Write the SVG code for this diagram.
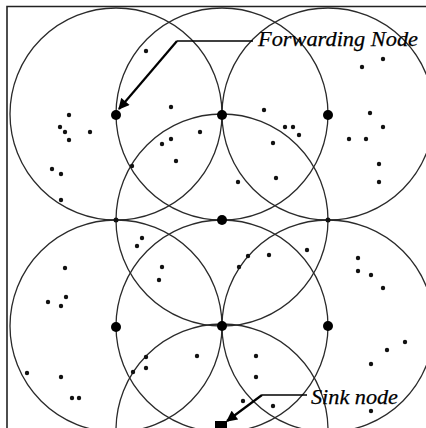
<svg xmlns="http://www.w3.org/2000/svg" width="426" height="428" viewBox="0 0 426 428">
<defs>
<style>
.range{fill:none;stroke:#2a2a2a;stroke-width:1.3}
.fwd{fill:#000}
.s{fill:#111}
.lead{fill:none;stroke:#000;stroke-width:1.4}
.arr{fill:none;stroke:#000;stroke-width:2.2}
.lbl{font-family:"Liberation Serif","Times New Roman",serif;font-style:italic;font-size:22px;fill:#000;stroke:#000;stroke-width:0.25}
</style>
<marker id="ah" viewBox="0 0 10 10" refX="9" refY="5" markerWidth="5.5" markerHeight="5" orient="auto" markerUnits="strokeWidth">
<path d="M0,0 L10,5 L0,10 Z" fill="#000"/>
</marker>
</defs>
<rect width="426" height="428" fill="#fff"/>
<g id="frame" stroke="#222" stroke-width="1.6" fill="none">
<path d="M7,428 V6.5 H426"/>
</g>
<g id="ranges">
<circle class="range" cx="116" cy="114" r="106"/>
<circle class="range" cx="222" cy="114" r="106"/>
<circle class="range" cx="328" cy="114" r="106"/>
<circle class="range" cx="222" cy="220" r="106"/>
<circle class="range" cx="116" cy="326" r="106"/>
<circle class="range" cx="222" cy="326" r="106"/>
<circle class="range" cx="328" cy="326" r="106"/>
<circle class="range" cx="222" cy="430" r="106"/>
</g>
<g id="sensors" class="s">
<circle cx="146" cy="51" r="2.2"/><circle cx="171" cy="107" r="2.2"/><circle cx="69" cy="115" r="2.2"/><circle cx="60" cy="127" r="2.2"/><circle cx="65" cy="132" r="2.2"/><circle cx="69" cy="140" r="2.2"/><circle cx="90" cy="132" r="2.2"/><circle cx="200" cy="132" r="2.2"/><circle cx="162" cy="144" r="2.2"/><circle cx="171" cy="139" r="2.2"/><circle cx="176" cy="161" r="2.2"/><circle cx="52" cy="169" r="2.2"/><circle cx="61" cy="174" r="2.2"/><circle cx="61" cy="200" r="2.2"/>
<circle cx="383" cy="59" r="2.2"/><circle cx="362" cy="67" r="2.2"/><circle cx="264" cy="110" r="2.2"/><circle cx="370" cy="113" r="2.2"/><circle cx="383" cy="127" r="2.2"/><circle cx="285" cy="127" r="2.2"/><circle cx="293" cy="127" r="2.2"/><circle cx="299" cy="135" r="2.2"/><circle cx="349" cy="139" r="2.2"/><circle cx="366" cy="139" r="2.2"/><circle cx="273" cy="143" r="2.2"/><circle cx="379" cy="164" r="2.2"/><circle cx="276" cy="178" r="2.2"/><circle cx="238" cy="182" r="2.2"/><circle cx="379" cy="182" r="2.2"/>
<circle cx="142" cy="238" r="2.2"/><circle cx="137" cy="246" r="2.2"/><circle cx="65" cy="268" r="2.2"/><circle cx="162" cy="267" r="2.2"/><circle cx="159" cy="280" r="2.2"/><circle cx="66" cy="297" r="2.2"/><circle cx="48" cy="302" r="2.2"/><circle cx="61" cy="306" r="2.2"/><circle cx="146" cy="357" r="2.2"/><circle cx="197" cy="356" r="2.2"/><circle cx="146" cy="368" r="2.2"/><circle cx="27" cy="373" r="2.2"/><circle cx="61" cy="377" r="2.2"/><circle cx="72" cy="398" r="2.2"/><circle cx="79" cy="398" r="2.2"/>
<circle cx="307" cy="250" r="2.2"/><circle cx="269" cy="255" r="2.2"/><circle cx="248" cy="256" r="2.2"/><circle cx="239" cy="267" r="2.2"/><circle cx="358" cy="258" r="2.2"/><circle cx="358" cy="271" r="2.2"/><circle cx="371" cy="275" r="2.2"/><circle cx="383" cy="288" r="2.2"/><circle cx="405" cy="342" r="2.2"/><circle cx="387" cy="350" r="2.2"/><circle cx="371" cy="364" r="2.2"/><circle cx="256" cy="356" r="2.2"/><circle cx="256" cy="377" r="2.2"/><circle cx="243" cy="401" r="2.2"/><circle cx="273" cy="406" r="2.2"/><circle cx="371" cy="411" r="2.2"/>
<circle cx="132" cy="166" r="2.2"/><circle cx="133" cy="372" r="2.2"/><circle cx="116" cy="220" r="2.5"/><circle cx="328" cy="220" r="2.5"/>
</g>
<g id="forwarding-nodes" class="fwd">
<circle id="fn1" cx="116" cy="115" r="5"/>
<circle id="fn2" cx="222" cy="115" r="5"/>
<circle id="fn3" cx="328" cy="115" r="5"/>
<circle id="fn4" cx="222" cy="220" r="5"/>
<circle id="fn5" cx="116" cy="327" r="5"/>
<circle id="fn6" cx="222" cy="326" r="5"/>
<circle id="fn7" cx="328" cy="326" r="5"/>
</g>
<g id="sink">
<rect x="215" y="421" width="12" height="8" fill="#000"/>
</g>
<g id="connectors">
<path class="lead" d="M253,41 H177"/>
<path class="arr" d="M177,41 L119,109" marker-end="url(#ah)"/>
<path class="lead" d="M307,395 H262"/>
<path class="arr" d="M262,395 L227,421" marker-end="url(#ah)"/>
</g>
<g id="labels">
<text class="lbl" x="258" y="46" textLength="160" lengthAdjust="spacingAndGlyphs">Forwarding Node</text>
<text class="lbl" x="311" y="404" textLength="87" lengthAdjust="spacingAndGlyphs">Sink node</text>
</g>
</svg>
